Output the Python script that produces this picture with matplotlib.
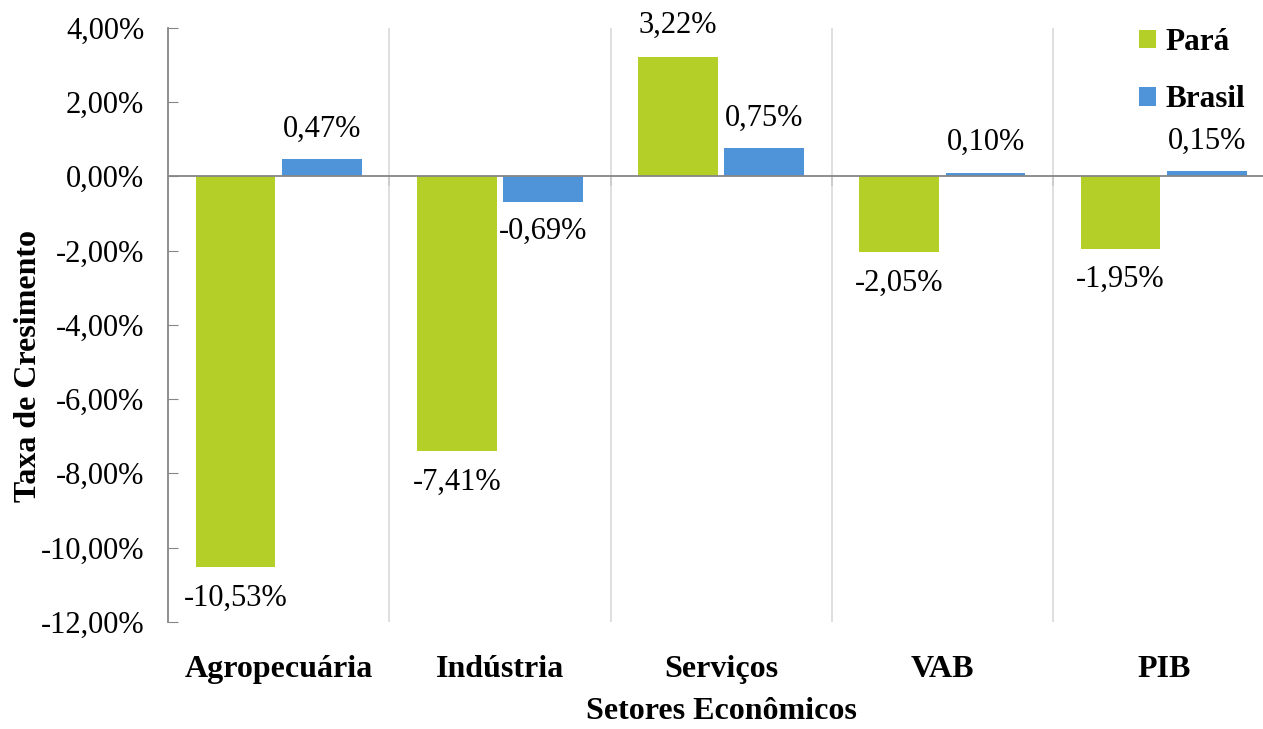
# Taxa de crescimento por setor econômico: Pará x Brasil
import numpy as np
import matplotlib
matplotlib.use("Agg")
import matplotlib.pyplot as plt
from matplotlib.ticker import FuncFormatter
from matplotlib import rcParams
rcParams['font.family'] = 'serif'
rcParams['font.serif'] = ['Liberation Serif', 'DejaVu Serif']
rcParams['font.size'] = 22

# data
setores = ["Agropecuária", "Indústria", "Serviços", "VAB", "PIB"]
para = [-10.53, -7.41, 3.22, -2.05, -1.95]
brasil = [0.47, -0.69, 0.75, 0.10, 0.15]
y_ticks = [4, 2, 0, -2, -4, -6, -8, -10, -12]

GREEN = "#B3CF28"
BLUE = "#4F94D8"
GRAY = "#868686"


def pct(v, pos=None):
    return ("%.2f%%" % v).replace(".", ",")


def main():
    fig = plt.figure(figsize=(12.63, 7.29), dpi=100)
    ax = fig.add_axes([0.133, 0.147, 0.876, 0.815])

    x = np.arange(len(setores))
    w = 0.36
    off = 0.195
    b1 = ax.bar(x - off, para, w, color=GREEN, label="Pará", zorder=3)
    b2 = ax.bar(x + off, brasil, w, color=BLUE, label="Brasil", zorder=3)

    # value labels
    ax.bar_label(b1, labels=[pct(v) for v in para], padding=12, fontsize=22)
    ax.bar_label(b2, labels=[pct(v) for v in brasil], padding=11, fontsize=22)

    ax.set_xlim(-0.5, len(setores) - 0.5)
    ax.set_ylim(-12, 4)
    ax.set_yticks(y_ticks)
    ax.yaxis.set_major_formatter(FuncFormatter(pct))
    ax.tick_params(axis='y', direction='in', length=7, color=GRAY, pad=17)

    ax.set_xticks(x)
    ax.set_xticklabels(setores, fontweight='bold', fontsize=23)
    ax.tick_params(axis='x', length=0, pad=24)

    # vertical gridlines between categories
    ax.set_xticks(np.arange(0.5, len(setores) - 0.5), minor=True)
    ax.tick_params(axis='x', which='minor', length=0)
    ax.grid(axis='x', which='minor', color="#D9D9D9", linewidth=1.2)
    ax.grid(axis='x', which='major', visible=False)

    # zero line with boundary ticks
    ax.axhline(0, color=GRAY, linewidth=1.3, zorder=4)
    sec = ax.secondary_xaxis(0, transform=ax.transData)
    sec.set_xticks(np.arange(0.5, len(setores) - 0.5))
    sec.set_xticklabels([])
    sec.tick_params(length=7, color=GRAY, width=1.3)
    sec.spines['bottom'].set_visible(False)

    for s in ['top', 'right', 'bottom']:
        ax.spines[s].set_visible(False)
    ax.spines['left'].set_color(GRAY)
    ax.spines['left'].set_linewidth(1.3)

    ax.set_xlabel("Setores Econômicos", fontweight='bold', fontsize=23,
                  labelpad=9)
    ax.set_ylabel("Taxa de Cresimento", fontweight='bold', fontsize=23)
    ax.yaxis.set_label_coords(-0.113, 0.431)

    ax.legend(loc='upper right', bbox_to_anchor=(1.008, 1.0),
              bbox_transform=fig.transFigure, frameon=False,
              handlelength=0.55, handleheight=0.55, handletextpad=0.3,
              labelspacing=0.9, prop={'weight': 'bold', 'size': 22.5})

    fig.savefig("out.png", dpi=100)


main()
